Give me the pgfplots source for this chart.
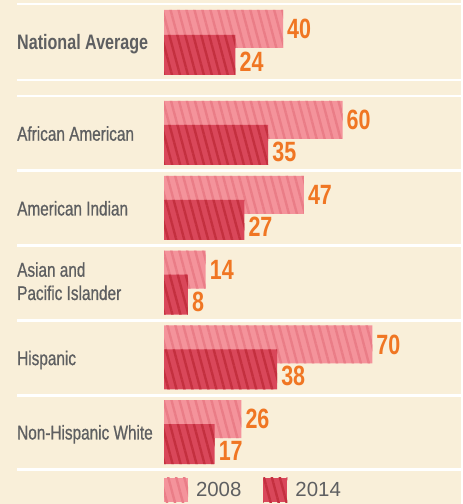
\documentclass[border=0pt]{standalone}
\usepackage{pgfplots}
\pgfplotsset{compat=1.18}
\usetikzlibrary{patterns.meta}
\usepackage{fontspec}
\setmainfont[FakeStretch=0.78]{Liberation Sans}
\newfontfamily\catfont[FakeStretch=0.77, FakeBold=0.7]{Liberation Sans}
\newfontfamily\numfont[FakeStretch=0.77]{Liberation Sans}
\newfontfamily\legfont{Liberation Sans}
\definecolor{cream}{HTML}{F9EFD9}
\definecolor{cA}{HTML}{F4939B}
\definecolor{cAs}{HTML}{EA7D87}
\definecolor{cB}{HTML}{D9475A}
\definecolor{cBs}{HTML}{C4303F}
\definecolor{numor}{HTML}{F07623}
\definecolor{txtgray}{HTML}{5E5F61}
\tikzset{
  stripeA/.style={pattern={Lines[angle=-75,distance=7.7bp,line width=2.4bp]}, pattern color=cAs},
  stripeB/.style={pattern={Lines[angle=-75,distance=7.7bp,line width=2.4bp]}, pattern color=cBs},
  catlab/.style={anchor=base west, inner sep=0pt, text=txtgray, font=\catfont\fontsize{20}{23}\selectfont}
}
\begin{document}
\begin{tikzpicture}
\begin{axis}[
  scale only axis, width=461bp, height=504bp,
  xmin=-55.126, xmax=99.832, ymin=-504, ymax=0,
  hide axis, clip=false,
  legend style={at={(axis cs:0,-490)}, anchor=west, draw=none, fill=none,
    inner sep=0pt, outer sep=0pt, legend columns=2,
    font=\legfont\fontsize{20.5}{20.5}\selectfont, text=txtgray,
    nodes={inner sep=0pt, anchor=west},
    /tikz/every odd column/.append style={column sep=8bp},
    /tikz/every even column/.append style={column sep=22bp}},
  legend cell align=left,
]
\fill[cream] (rel axis cs:0,0) rectangle (rel axis cs:1,1);
\draw[white, line width=2.8bp] (axis cs:-49.41,-4) -- (axis cs:99.832,-4);
\draw[white, line width=2.8bp] (axis cs:-49.41,-80) -- (axis cs:99.832,-80);
\draw[white, line width=2.8bp] (axis cs:-49.41,-96) -- (axis cs:99.832,-96);
\draw[white, line width=2.8bp] (axis cs:-49.41,-170.8) -- (axis cs:99.832,-170.8);
\draw[white, line width=2.8bp] (axis cs:-49.41,-245.6) -- (axis cs:99.832,-245.6);
\draw[white, line width=2.8bp] (axis cs:-49.41,-320.4) -- (axis cs:99.832,-320.4);
\draw[white, line width=2.8bp] (axis cs:-49.41,-395.2) -- (axis cs:99.832,-395.2);
\draw[white, line width=2.8bp] (axis cs:-49.41,-469.5) -- (axis cs:99.832,-469.5);

% 2008
\addplot[xbar, bar width=38, fill=cA, draw=none, forget plot,
  point meta=x, nodes near coords={\pgfmathprintnumber[assume math mode=true]{\pgfplotspointmeta}},
  every node near coord/.append style={anchor=west, inner sep=0pt, xshift=4bp, text=numor,
    font=\numfont\bfseries\fontsize{28}{28}\selectfont}]
  coordinates {(40,-29) (60,-120) (47,-194.8) (14,-269.6) (70,-344.4) (26,-419.2)};
\addplot[xbar, bar width=38, draw=none, stripeA, forget plot]
  coordinates {(40,-29) (60,-120) (47,-194.8) (14,-269.6) (70,-344.4) (26,-419.2)};
% 2014
\addplot[xbar, bar width=40, fill=cB, draw=none, forget plot,
  point meta=x, nodes near coords={\pgfmathprintnumber[assume math mode=true]{\pgfplotspointmeta}},
  every node near coord/.append style={anchor=west, inner sep=0pt, xshift=4bp, yshift=-7bp, text=numor,
    font=\numfont\bfseries\fontsize{28}{28}\selectfont}]
  coordinates {(24,-55) (35,-145) (27,-219.8) (8,-294.6) (38,-369.4) (17,-444.2)};
\addplot[xbar, bar width=40, draw=none, stripeB, forget plot]
  coordinates {(24,-55) (35,-145) (27,-219.8) (8,-294.6) (38,-369.4) (17,-444.2)};

\addlegendimage{legend image code/.code={\fill[cA, draw=none] (0bp,-12bp) rectangle (24bp,12bp); \fill[stripeA, draw=none] (0bp,-12bp) rectangle (24bp,12bp);}}
\addlegendentry{2008}
\addlegendimage{legend image code/.code={\fill[cB, draw=none] (0bp,-12bp) rectangle (24bp,12bp); \fill[stripeB, draw=none] (0bp,-12bp) rectangle (24bp,12bp);}}
\addlegendentry{2014}

\node[catlab, font=\numfont\bfseries\fontsize{21}{23}\selectfont] at (axis cs:-49.41,-50) {National Average};
\node[catlab] at (axis cs:-49.41,-140.7) {African American};
\node[catlab] at (axis cs:-49.41,-215.5) {American Indian};
\node[catlab] at (axis cs:-49.41,-276.7) {Asian and};
\node[catlab] at (axis cs:-49.41,-300) {Pacific Islander};
\node[catlab] at (axis cs:-49.41,-365.1) {Hispanic};
\node[catlab] at (axis cs:-49.41,-439.5) {Non-Hispanic White};
\end{axis}
\end{tikzpicture}
\end{document}
